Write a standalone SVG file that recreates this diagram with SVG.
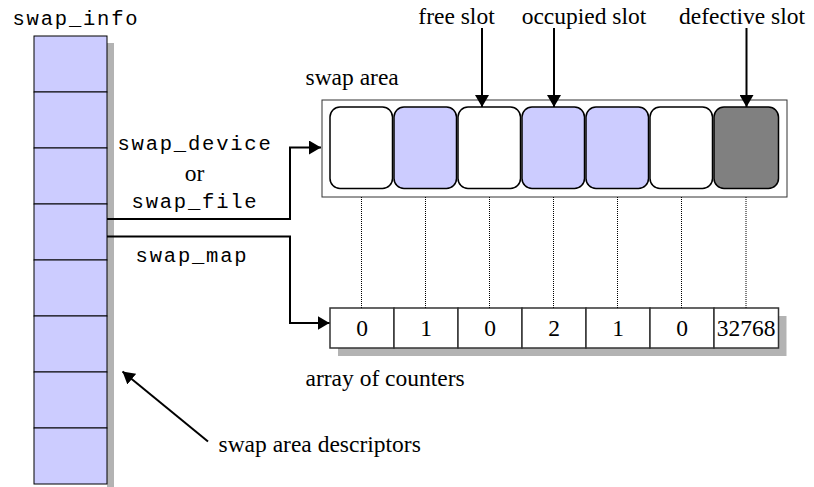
<svg xmlns="http://www.w3.org/2000/svg" width="814" height="487" viewBox="0 0 814 487">
<style>
.serif{font-family:"Liberation Serif","Times New Roman",serif;font-size:23.5px;fill:#000}
.mono{font-family:"Liberation Mono","Courier New",monospace;font-size:20.5px;letter-spacing:1.8px;fill:#000}
.cell{fill:#ccccff;stroke:#000;stroke-width:1}
.shadow{fill:#b3b3b3}
.slot{stroke:#000;stroke-width:1.5}
.free{fill:#ffffff}
.occ{fill:#ccccff}
.bad{fill:#808080}
.ctr{fill:#ffffff;stroke:#333;stroke-width:1.5}
.conn{fill:none;stroke:#000;stroke-width:2}
.dot{fill:none;stroke:#000;stroke-width:1;stroke-dasharray:1 1}
</style>
<defs>
<marker id="ah" markerUnits="userSpaceOnUse" markerWidth="13" markerHeight="14" refX="12" refY="7" orient="auto">
<path d="M0,0 L12,7 L0,14 z" fill="#000"/>
</marker>
</defs>

<g id="swap_info">
<text class="mono" x="12.5" y="25">swap_info</text>
<rect class="shadow" x="107" y="43" width="7" height="444"/>
<rect class="cell" x="34" y="36" width="73" height="56"/>
<rect class="cell" x="34" y="92" width="73" height="56"/>
<rect class="cell" x="34" y="148" width="73" height="56"/>
<rect class="cell" x="34" y="204" width="73" height="56"/>
<rect class="cell" x="34" y="260" width="73" height="56"/>
<rect class="cell" x="34" y="316" width="73" height="56"/>
<rect class="cell" x="34" y="372" width="73" height="56"/>
<rect class="cell" x="34" y="428" width="73" height="56"/>
</g>

<g id="swap_area">
<text class="serif" x="305.5" y="85">swap area</text>
<rect x="322" y="100" width="465" height="97" fill="#fff" stroke="#333" stroke-width="1"/>
<rect class="slot free" x="330" y="107" width="62.5" height="81.5" rx="10" ry="10"/>
<rect class="slot occ" x="394" y="107" width="62.5" height="81.5" rx="10" ry="10"/>
<rect class="slot free" x="458" y="107" width="62.5" height="81.5" rx="10" ry="10"/>
<rect class="slot occ" x="522" y="107" width="62.5" height="81.5" rx="10" ry="10"/>
<rect class="slot occ" x="586" y="107" width="62.5" height="81.5" rx="10" ry="10"/>
<rect class="slot free" x="650" y="107" width="62.5" height="81.5" rx="10" ry="10"/>
<rect class="slot bad" x="714" y="107" width="64.5" height="81.5" rx="10" ry="10"/>
</g>

<g id="slot_labels">
<text class="serif" x="456.5" y="24" text-anchor="middle">free slot</text>
<text class="serif" x="584" y="24" text-anchor="middle">occupied slot</text>
<text class="serif" x="742" y="24" text-anchor="middle">defective slot</text>
</g>

<g id="counters">
<rect class="shadow" x="338" y="316" width="448.5" height="40"/>
<rect class="ctr" x="330" y="308" width="64" height="40"/>
<rect class="ctr" x="394" y="308" width="64" height="40"/>
<rect class="ctr" x="458" y="308" width="64" height="40"/>
<rect class="ctr" x="522" y="308" width="64" height="40"/>
<rect class="ctr" x="586" y="308" width="64" height="40"/>
<rect class="ctr" x="650" y="308" width="64" height="40"/>
<rect class="ctr" x="714" y="308" width="64.5" height="40"/>
<text class="serif" x="362" y="336" text-anchor="middle">0</text>
<text class="serif" x="426" y="336" text-anchor="middle">1</text>
<text class="serif" x="490" y="336" text-anchor="middle">0</text>
<text class="serif" x="554" y="336" text-anchor="middle">2</text>
<text class="serif" x="618" y="336" text-anchor="middle">1</text>
<text class="serif" x="682" y="336" text-anchor="middle">0</text>
<text class="serif" x="746" y="336" text-anchor="middle">32768</text>
<text class="serif" x="305.5" y="386">array of counters</text>
</g>

<g id="descriptors_label">
<text class="serif" x="218.5" y="451.5">swap area descriptors</text>
</g>

<g id="edge_labels">
<text class="mono" x="195" y="150" text-anchor="middle">swap_device</text>
<text class="serif" x="194.5" y="180.5" text-anchor="middle">or</text>
<text class="mono" x="195" y="207.5" text-anchor="middle">swap_file</text>
<text class="mono" x="192" y="261.5" text-anchor="middle">swap_map</text>
</g>

<g id="connectors">
<path class="conn" d="M107,219 H290 V147.5 H321" marker-end="url(#ah)"/>
<path class="conn" d="M107,236.5 H290 V323 H329.5" marker-end="url(#ah)"/>
<path class="conn" d="M482,28 V107" marker-end="url(#ah)"/>
<path class="conn" d="M554,28 V107" marker-end="url(#ah)"/>
<path class="conn" d="M746.5,28 V107" marker-end="url(#ah)"/>
<path class="conn" d="M208,441.5 L122.5,371.5" marker-end="url(#ah)" stroke-width="1.6"/>
<path class="dot" d="M361.5,197 V308 M425.5,197 V308 M489.5,197 V308 M553.5,197 V308 M617.5,197 V308 M681.5,197 V308 M746,197 V308"/>
</g>
</svg>
